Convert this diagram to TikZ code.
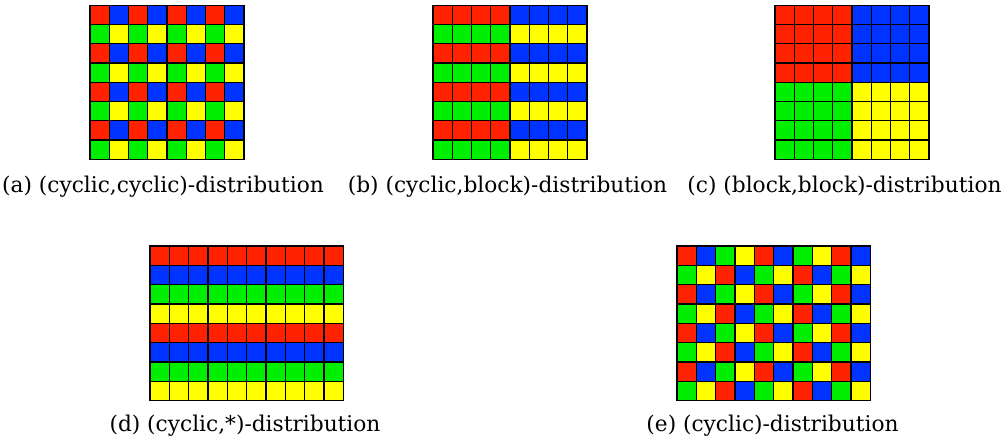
\documentclass[tikz,border=0pt]{standalone}
\usepackage{fontspec}
\newfontfamily\capfont{DejaVu Serif}
\definecolor{col0}{RGB}{255,34,0}
\definecolor{col1}{RGB}{0,51,255}
\definecolor{col2}{RGB}{0,238,0}
\definecolor{col3}{RGB}{255,255,0}
\begin{document}
\begin{tikzpicture}[x=1pt,y=-1pt,
  cell/.style={draw=black,line width=1.2pt},
  captext/.style={anchor=base,inner sep=0pt,font=\capfont\fontsize{21.7}{26}\selectfont}]
\useasboundingbox[fill=white] (0,0) rectangle (1008,444);
\def\cs{19.25}
% (a) cyclic,cyclic
\foreach \r in {0,...,7}{\foreach \c in {0,...,7}{
  \pgfmathtruncatemacro\k{2*mod(\r,2)+mod(\c,2)}
  \draw[cell,fill=col\k] (90+\c*\cs,5.3+\r*\cs) rectangle ++(\cs,\cs);
}}
% (b) cyclic,block
\foreach \r in {0,...,7}{\foreach \c in {0,...,7}{
  \pgfmathtruncatemacro\k{2*mod(\r,2)+(\c>3)}
  \draw[cell,fill=col\k] (433+\c*\cs,5.3+\r*\cs) rectangle ++(\cs,\cs);
}}
% (c) block,block
\foreach \r in {0,...,7}{\foreach \c in {0,...,7}{
  \pgfmathtruncatemacro\k{2*(\r>3)+(\c>3)}
  \draw[cell,fill=col\k] (775+\c*\cs,5.3+\r*\cs) rectangle ++(\cs,\cs);
}}
% (d) cyclic,*
\foreach \r in {0,...,7}{\foreach \c in {0,...,9}{
  \pgfmathtruncatemacro\k{mod(\r,4)}
  \draw[cell,fill=col\k] (150+\c*19.33,246+\r*19.33) rectangle ++(19.33,19.33);
}}
% (e) cyclic
\foreach \r in {0,...,7}{\foreach \c in {0,...,9}{
  \pgfmathtruncatemacro\k{mod(10*\r+\c,4)}
  \draw[cell,fill=col\k] (677+\c*19.33,246+\r*19.33) rectangle ++(19.33,19.33);
}}
\node[captext] (capa) at (163,192.5) {(a) (cyclic,cyclic)-distribution};
\node[captext] (capb) at (507.5,192.5) {(b) (cyclic,block)-distribution};
\node[captext] (capc) at (844.5,192.5) {(c) (block,block)-distribution};
\node[captext] (capd) at (245,431.5) {(d) (cyclic,*)-distribution};
\node[captext] (cape) at (772.5,431.5) {(e) (cyclic)-distribution};
\end{tikzpicture}
\end{document}
